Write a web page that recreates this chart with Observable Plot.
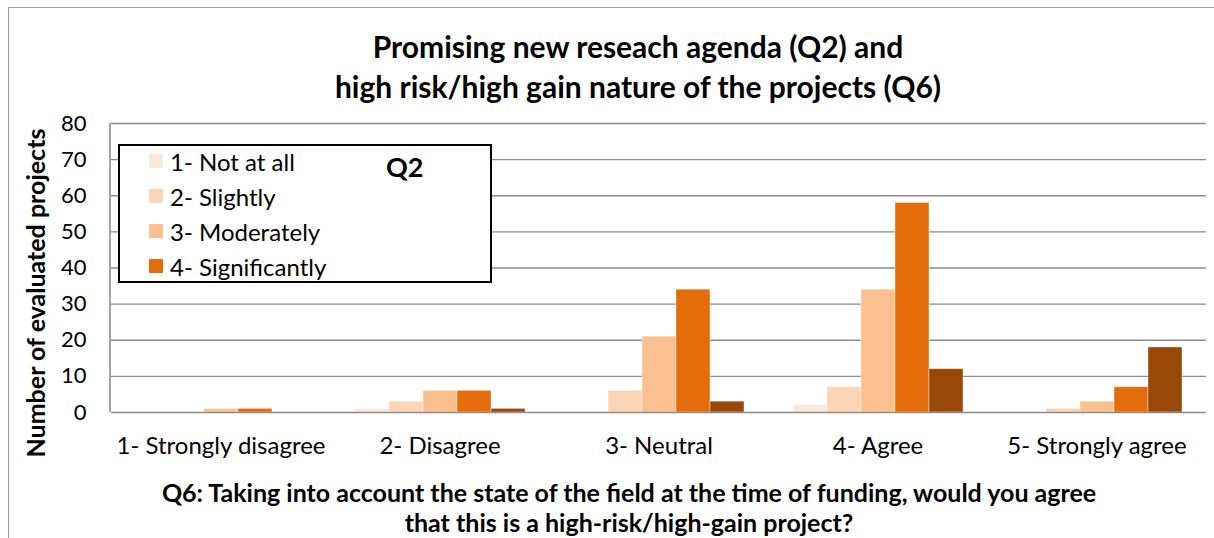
<!DOCTYPE html>
<html>
<head>
<meta charset="utf-8">
<script src="https://cdn.jsdelivr.net/npm/d3@7"></script>
<script src="https://cdn.jsdelivr.net/npm/@observablehq/plot@0.6"></script>
<style>
  html, body { margin: 0; padding: 0; background: #fff; }
  #wrap { position: relative; width: 1214px; height: 538px; overflow: hidden; font-family: Lato, "Open Sans", sans-serif; color: #000; }
  #border { position: absolute; left: 8px; top: 7px; right: -5px; bottom: -5px; border-left: 1.5px solid #9a9a9a; border-top: 1.5px solid #9a9a9a; }
  #chart { position: absolute; left: 0; top: 0; }
  #title { position: absolute; top: 26px; left: 38px; width: 1200px; text-align: center; font-weight: bold; font-size: 30px; line-height: 40px; }
  #ylab { position: absolute; left: 35px; top: 293px; transform: translate(-50%, -50%) rotate(-90deg); white-space: nowrap; font-weight: bold; font-size: 25px; }
  #xtitle { position: absolute; top: 477px; left: 29px; width: 1200px; text-align: center; font-weight: bold; font-size: 25px; line-height: 30px; }
  #legend { position: absolute; left: 118px; top: 144px; width: 370px; height: 135px; border: 2px solid #000; background: #fff; }
  #legend .row { position: absolute; left: 29px; height: 30px; display: flex; align-items: center; font-size: 24px; white-space: nowrap; }
  #legend .sw { width: 14px; height: 14px; margin-right: 7px; }
  #legend .q { position: absolute; left: 266px; top: 4px; font-weight: bold; font-size: 27px; }
</style>
</head>
<body>
<div id="wrap">
  <div id="border"></div>
  <div id="chart"></div>
  <div id="title"></div>
  <div id="ylab"></div>
  <div id="xtitle"></div>
  <div id="legend"></div>
</div>
<script>
// ---- data ----
const categories = ["1- Strongly disagree", "2- Disagree", "3- Neutral", "4- Agree", "5- Strongly agree"];
const series = ["1- Not at all", "2- Slightly", "3- Moderately", "4- Significantly", "5"];
const legendSeries = ["1- Not at all", "2- Slightly", "3- Moderately", "4- Significantly"];
const colors = ["#fde9d9", "#fbd5b5", "#fac090", "#e46c0a", "#984807"];
const notAtAll      = [0, 1, 0, 2, 0];
const slightly      = [0, 3, 6, 7, 1];
const moderately    = [1, 6, 21, 34, 3];
const significantly = [1, 6, 34, 58, 7];
const fifth         = [0, 1, 3, 12, 18];
const yTicks = [0, 10, 20, 30, 40, 50, 60, 70, 80];
const titleLines = ["Promising new reseach agenda (Q2) and", "high risk/high gain nature of the projects (Q6)"];
const yLabel = "Number of evaluated projects";
const xTitleLines = ["Q6: Taking into account the state of the field at the time of funding, would you agree", "that this is a high-risk/high-gain project?"];
const legendTitle = "Q2";

// ---- table ----
const seriesValues = [notAtAll, slightly, moderately, significantly, fifth];
const rows = [];
categories.forEach((c, i) => {
  series.forEach((s, j) => rows.push({category: c, series: s, value: seriesValues[j][i]}));
});

const W = 1214, H = 538, ML = 110, MR = 7, MT = 123, MB = 126;

const plot = Plot.plot({
  width: W,
  height: H,
  marginLeft: ML,
  marginRight: MR,
  marginTop: MT,
  marginBottom: MB,
  style: {fontFamily: "Lato, 'Open Sans', sans-serif", fontSize: "22px", color: "#000", background: "transparent"},
  fx: {domain: categories, padding: 0, label: null, axis: null},
  x: {domain: series, paddingInner: 0, paddingOuter: 0.72, axis: null},
  y: {domain: [0, 80], ticks: yTicks, label: null, tickSize: 0, tickPadding: 25, tickFormat: d => String(d)},
  color: {domain: series, range: colors},
  marks: [
    Plot.ruleY(yTicks.filter(d => d > 0), {stroke: "#8c8c8c", strokeWidth: 1.4}),
    Plot.barY(rows, {fx: "category", x: "series", y: "value", fill: "series", stroke: "#ffffff", strokeOpacity: 0.5, strokeWidth: 0.8}),
    Plot.ruleY([0], {stroke: "#8c8c8c", strokeWidth: 1.6}),
    Plot.axisFx({anchor: "bottom", tickSize: 0, tickPadding: 24, fontSize: 24, label: null})
  ]
});
document.getElementById("chart").appendChild(plot);

// left axis line from the y scale range
const yr = plot.scale("y").range;
d3.select(plot).append("line")
  .attr("x1", ML).attr("x2", ML)
  .attr("y1", yr[0]).attr("y2", yr[1])
  .attr("stroke", "#8c8c8c").attr("stroke-width", 1.6);

// ---- texts ----
document.getElementById("title").innerHTML = titleLines.map(t => `<div>${t}</div>`).join("");
document.getElementById("xtitle").innerHTML = xTitleLines.map(t => `<div>${t}</div>`).join("");
document.getElementById("ylab").textContent = yLabel;

// ---- legend ----
const lg = document.getElementById("legend");
legendSeries.forEach((s, i) => {
  const r = document.createElement("div");
  r.className = "row";
  r.style.top = (0 + i * 35) + "px";
  const sw = document.createElement("div");
  sw.className = "sw";
  sw.style.background = colors[series.indexOf(s)];
  const t = document.createElement("span");
  t.textContent = s;
  r.appendChild(sw); r.appendChild(t);
  lg.appendChild(r);
});
const q = document.createElement("div");
q.className = "q";
q.textContent = legendTitle;
lg.appendChild(q);
</script>
</body>
</html>
